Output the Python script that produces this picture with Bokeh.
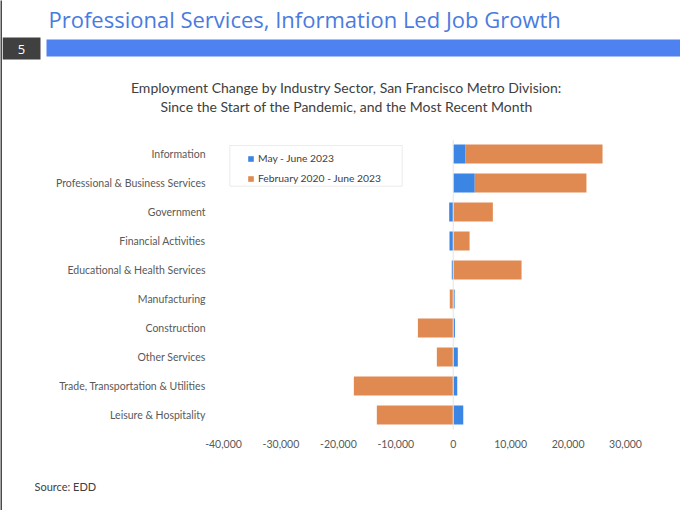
from bokeh.plotting import figure
from bokeh.layouts import column, row
from bokeh.models import (FactorRange, FixedTicker, NumeralTickFormatter, Range1d,
                          BoxAnnotation, Span, Legend, LegendItem, ColumnDataSource)
from bokeh.core.properties import value
from bokeh.embed import file_html
from bokeh.resources import INLINE
import numpy as np

# ---- data ----
categories = ["Information", "Professional & Business Services", "Government",
              "Financial Activities", "Educational & Health Services", "Manufacturing",
              "Construction", "Other Services", "Trade, Transportation & Utilities",
              "Leisure & Hospitality"]
may_june_2023 = [2150, 3750, -700, -650, -250, 250, 300, 800, 700, 1750]
feb2020_june2023 = [23850, 19450, 6900, 2850, 11900, -600, -6150, -2850, -17300, -13300]
x_ticks = [-40000, -30000, -20000, -10000, 0, 10000, 20000, 30000]
series_names = ["May - June 2023", "February 2020 - June 2023"]
slide_title = "Professional Services, Information Led Job Growth"
chart_title = ["Employment Change by Industry Sector, San Francisco Metro Division:",
               "Since the Start of the Pandemic, and the Most Recent Month"]
source_text = "Source: EDD"
slide_number = "5"

BLUE = "#3B86E5"
ORANGE = "#E08A52"
FONT = "Lato"


def blank(w, h, x0, x1, y0, y1):
    f = figure(width=w, height=h, output_backend="svg", toolbar_location=None,
               x_range=Range1d(x0, x1), y_range=Range1d(y0, y1),
               x_axis_location=None, y_axis_location=None, min_border=0,
               frame_align=False)
    f.outline_line_color = None
    f.grid.visible = False
    f.background_fill_color = "white"
    f.border_fill_color = "white"
    return f


# ---- left slide border ----
edge = blank(2, 510, 0, 2, 0, 510)
edge.background_fill_color = "#4a4a4a"
edge.border_fill_color = "#4a4a4a"

# ---- header ----
hdr = blank(678, 118, 2, 680, 118, 0)
hdr.quad(left=[2], right=[40], top=[37], bottom=[59], fill_color="#404040", line_color=None)
hdr.quad(left=[46], right=[680], top=[39], bottom=[56], fill_color="#4E82F0", line_color=None)
hdr.text(x=[21], y=[48.5], text=[slide_number], text_font=value("Open Sans"),
         text_font_size="13px", text_color="white", text_align="center",
         text_baseline="middle")
hdr.text(x=[48], y=[18], text=[slide_title], text_font=value("Open Sans"),
         text_font_size="22px", text_color="#4A7BE0", text_align="left",
         text_baseline="alphabetic")
hdr.text(x=[346, 346], y=[87, 106], text=chart_title, text_font=value(FONT),
         text_font_size="14px", text_color="#404040", text_align="center",
         text_baseline="alphabetic")

# ---- chart ----
b = np.array(may_june_2023, dtype=float)
o = np.array(feb2020_june2023, dtype=float)
o_start = np.where(o >= 0, np.maximum(b, 0), np.minimum(b, 0))
o_end = o_start + o
src_b = ColumnDataSource(dict(y=categories, left=np.minimum(b, 0), right=np.maximum(b, 0)))
src_o = ColumnDataSource(dict(y=categories, left=np.minimum(o_start, o_end),
                              right=np.maximum(o_start, o_end)))

p = figure(width=678, height=337, output_backend="svg", toolbar_location=None,
           y_range=FactorRange(factors=list(reversed(categories))),
           x_range=(x_ticks[0], x_ticks[-1]), frame_align=False,
           min_border_left=221, min_border_right=55, min_border_top=21, min_border_bottom=26)
p.background_fill_color = "white"
p.border_fill_color = "white"
p.outline_line_color = None
p.xgrid.visible = False
p.ygrid.visible = False

p.add_layout(Span(location=0, dimension="height", line_color="#e4e4e4", line_width=1))

rb = p.hbar(y="y", left="left", right="right", height=0.66, source=src_b,
            fill_color=BLUE, line_color=None)
ro = p.hbar(y="y", left="left", right="right", height=0.66, source=src_o,
            fill_color=ORANGE, line_color=None)

for ax in (p.xaxis[0], p.yaxis[0]):
    ax.axis_line_color = None
    ax.major_tick_line_color = None
    ax.minor_tick_line_color = None
    ax.major_label_text_font = FONT
    ax.major_label_text_font_size = "10.5px"
    ax.major_label_text_color = "#595959"
p.xaxis.ticker = FixedTicker(ticks=x_ticks)
p.xaxis.formatter = NumeralTickFormatter(format="0,0")
p.xaxis.major_label_standoff = 4
p.yaxis.major_label_standoff = 12

legend = Legend(items=[LegendItem(label=series_names[0], renderers=[rb]),
                       LegendItem(label=series_names[1], renderers=[ro])],
                location=(24, 244), orientation="vertical",
                glyph_width=7, glyph_height=7, label_height=14, spacing=6,
                label_standoff=4, padding=3, margin=0,
                label_text_font=FONT, label_text_font_size="10.3px",
                label_text_color="#404040",
                border_line_color=None, background_fill_alpha=0)
p.add_layout(legend)
p.add_layout(BoxAnnotation(left=6.3, right=178.7, top=284, bottom=243.3,
                           left_units="screen", right_units="screen",
                           top_units="screen", bottom_units="screen",
                           fill_alpha=0, line_color="#bfbfbf", line_width=1))

# ---- footer ----
ftr = blank(678, 55, 2, 680, 55, 0)
ftr.text(x=[34], y=[31], text=[source_text], text_font=value(FONT), text_font_size="11px",
         text_color="#404040", text_align="left", text_baseline="middle")

layout = row(edge, column(hdr, p, ftr, spacing=0), spacing=0)
open("out.html", "w").write(file_html(layout, INLINE))
